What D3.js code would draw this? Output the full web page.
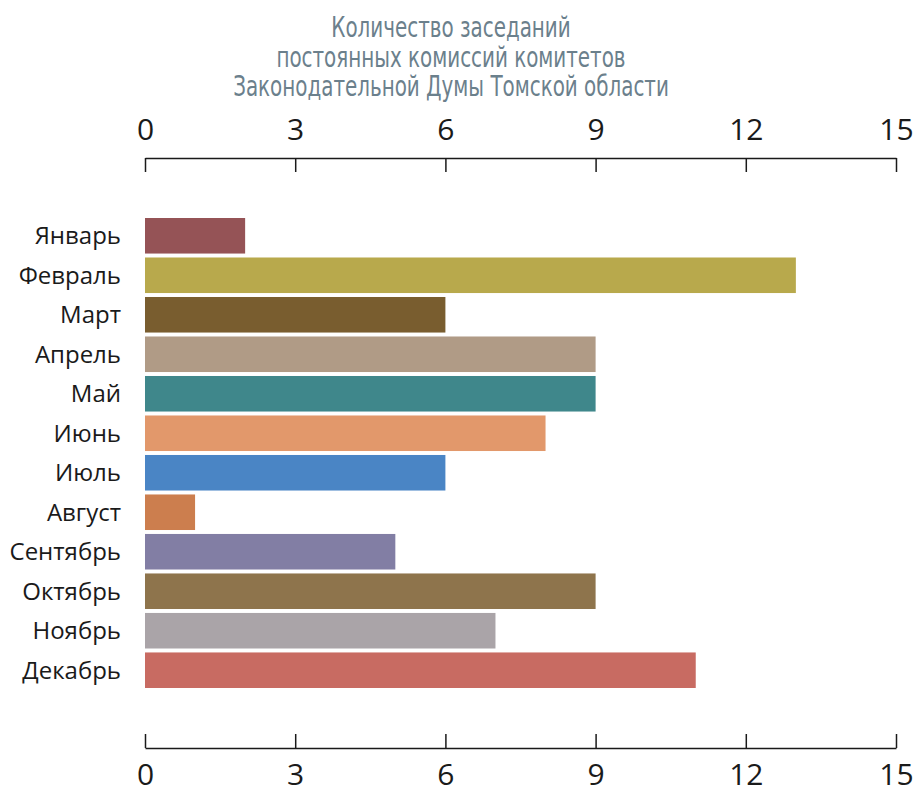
<!DOCTYPE html>
<html>
<head>
<meta charset="utf-8">
<script src="https://cdn.jsdelivr.net/npm/d3@7"></script>
<style>
  body { margin: 0; background: #fff; }
  .tick text { font-family: "Open Sans", sans-serif; fill: #1a1a1a; }
  .tick line, .domain { stroke: #1a1a1a; }
</style>
</head>
<body>
<div id="chart"></div>
<script>
var titleLines = ["Количество заседаний", "постоянных комиссий комитетов", "Законодательной Думы Томской области"];
var months = ["Январь", "Февраль", "Март", "Апрель", "Май", "Июнь", "Июль", "Август", "Сентябрь", "Октябрь", "Ноябрь", "Декабрь"];
var meetings = [2, 13, 6, 9, 9, 8, 6, 1, 5, 9, 7, 11];
var barColors = ["#955356", "#b8a94c", "#795d2f", "#b09b86", "#3f878b", "#e2986b",
                 "#4a85c5", "#cc7e4e", "#827ea4", "#8e744c", "#aaa4a8", "#c86b62"];
var tickValues = [0, 3, 6, 9, 12, 15];

var svgWidth = 917;
var svgHeight = 787;

var svg = d3.select("#chart")
    .append("svg")
    .attr("width", svgWidth)
    .attr("height", svgHeight);

var xScale = d3.scaleLinear()
    .domain([0, 15])
    .range([145, 896]);

var yScale = d3.scaleBand()
    .domain(months)
    .range([218, 688])
    .paddingInner(0.1)
    .paddingOuter(0);

// title, narrow font squeezed horizontally
svg.selectAll("text.title")
    .data(titleLines)
    .enter()
    .append("text")
    .attr("class", "title")
    .attr("text-anchor", "middle")
    .attr("transform", (d, i) => `translate(451, ${37 + i * 29.5}) scale(0.79, 1)`)
    .style("font-family", "'Liberation Sans Narrow', 'DejaVu Sans Condensed', sans-serif")
    .style("font-size", "28px")
    .attr("fill", "#6b808c")
    .text(d => d);

// axes, ticks point toward the bars
var topAxis = d3.axisTop(xScale)
    .tickValues(tickValues)
    .tickSizeInner(-14)
    .tickSizeOuter(0)
    .tickPadding(18);

var bottomAxis = d3.axisBottom(xScale)
    .tickValues(tickValues)
    .tickSizeInner(-14)
    .tickSizeOuter(0)
    .tickPadding(14);

var topG = svg.append("g")
    .attr("transform", "translate(0, 158)")
    .call(topAxis);

var bottomG = svg.append("g")
    .attr("transform", "translate(0, 748)")
    .call(bottomAxis);

svg.selectAll(".tick text")
    .style("font-size", "30px");
bottomG.selectAll(".tick text")
    .attr("dy", "0.75em");
svg.selectAll(".domain, .tick line")
    .attr("stroke-width", 1.5);

// bars
svg.selectAll("rect.bar")
    .data(meetings)
    .enter()
    .append("rect")
    .attr("class", "bar")
    .attr("x", xScale(0))
    .attr("y", (d, i) => yScale(months[i]))
    .attr("width", d => xScale(d) - xScale(0))
    .attr("height", yScale.bandwidth())
    .attr("fill", (d, i) => barColors[i]);

// month labels
svg.selectAll("text.month")
    .data(months)
    .enter()
    .append("text")
    .attr("class", "month")
    .attr("x", 121)
    .attr("y", d => yScale(d) + yScale.bandwidth() / 2)
    .attr("dy", "0.36em")
    .attr("text-anchor", "end")
    .style("font-family", "'Open Sans', sans-serif")
    .style("font-size", "24px")
    .attr("fill", "#1a1a1a")
    .text(d => d);
</script>
</body>
</html>
